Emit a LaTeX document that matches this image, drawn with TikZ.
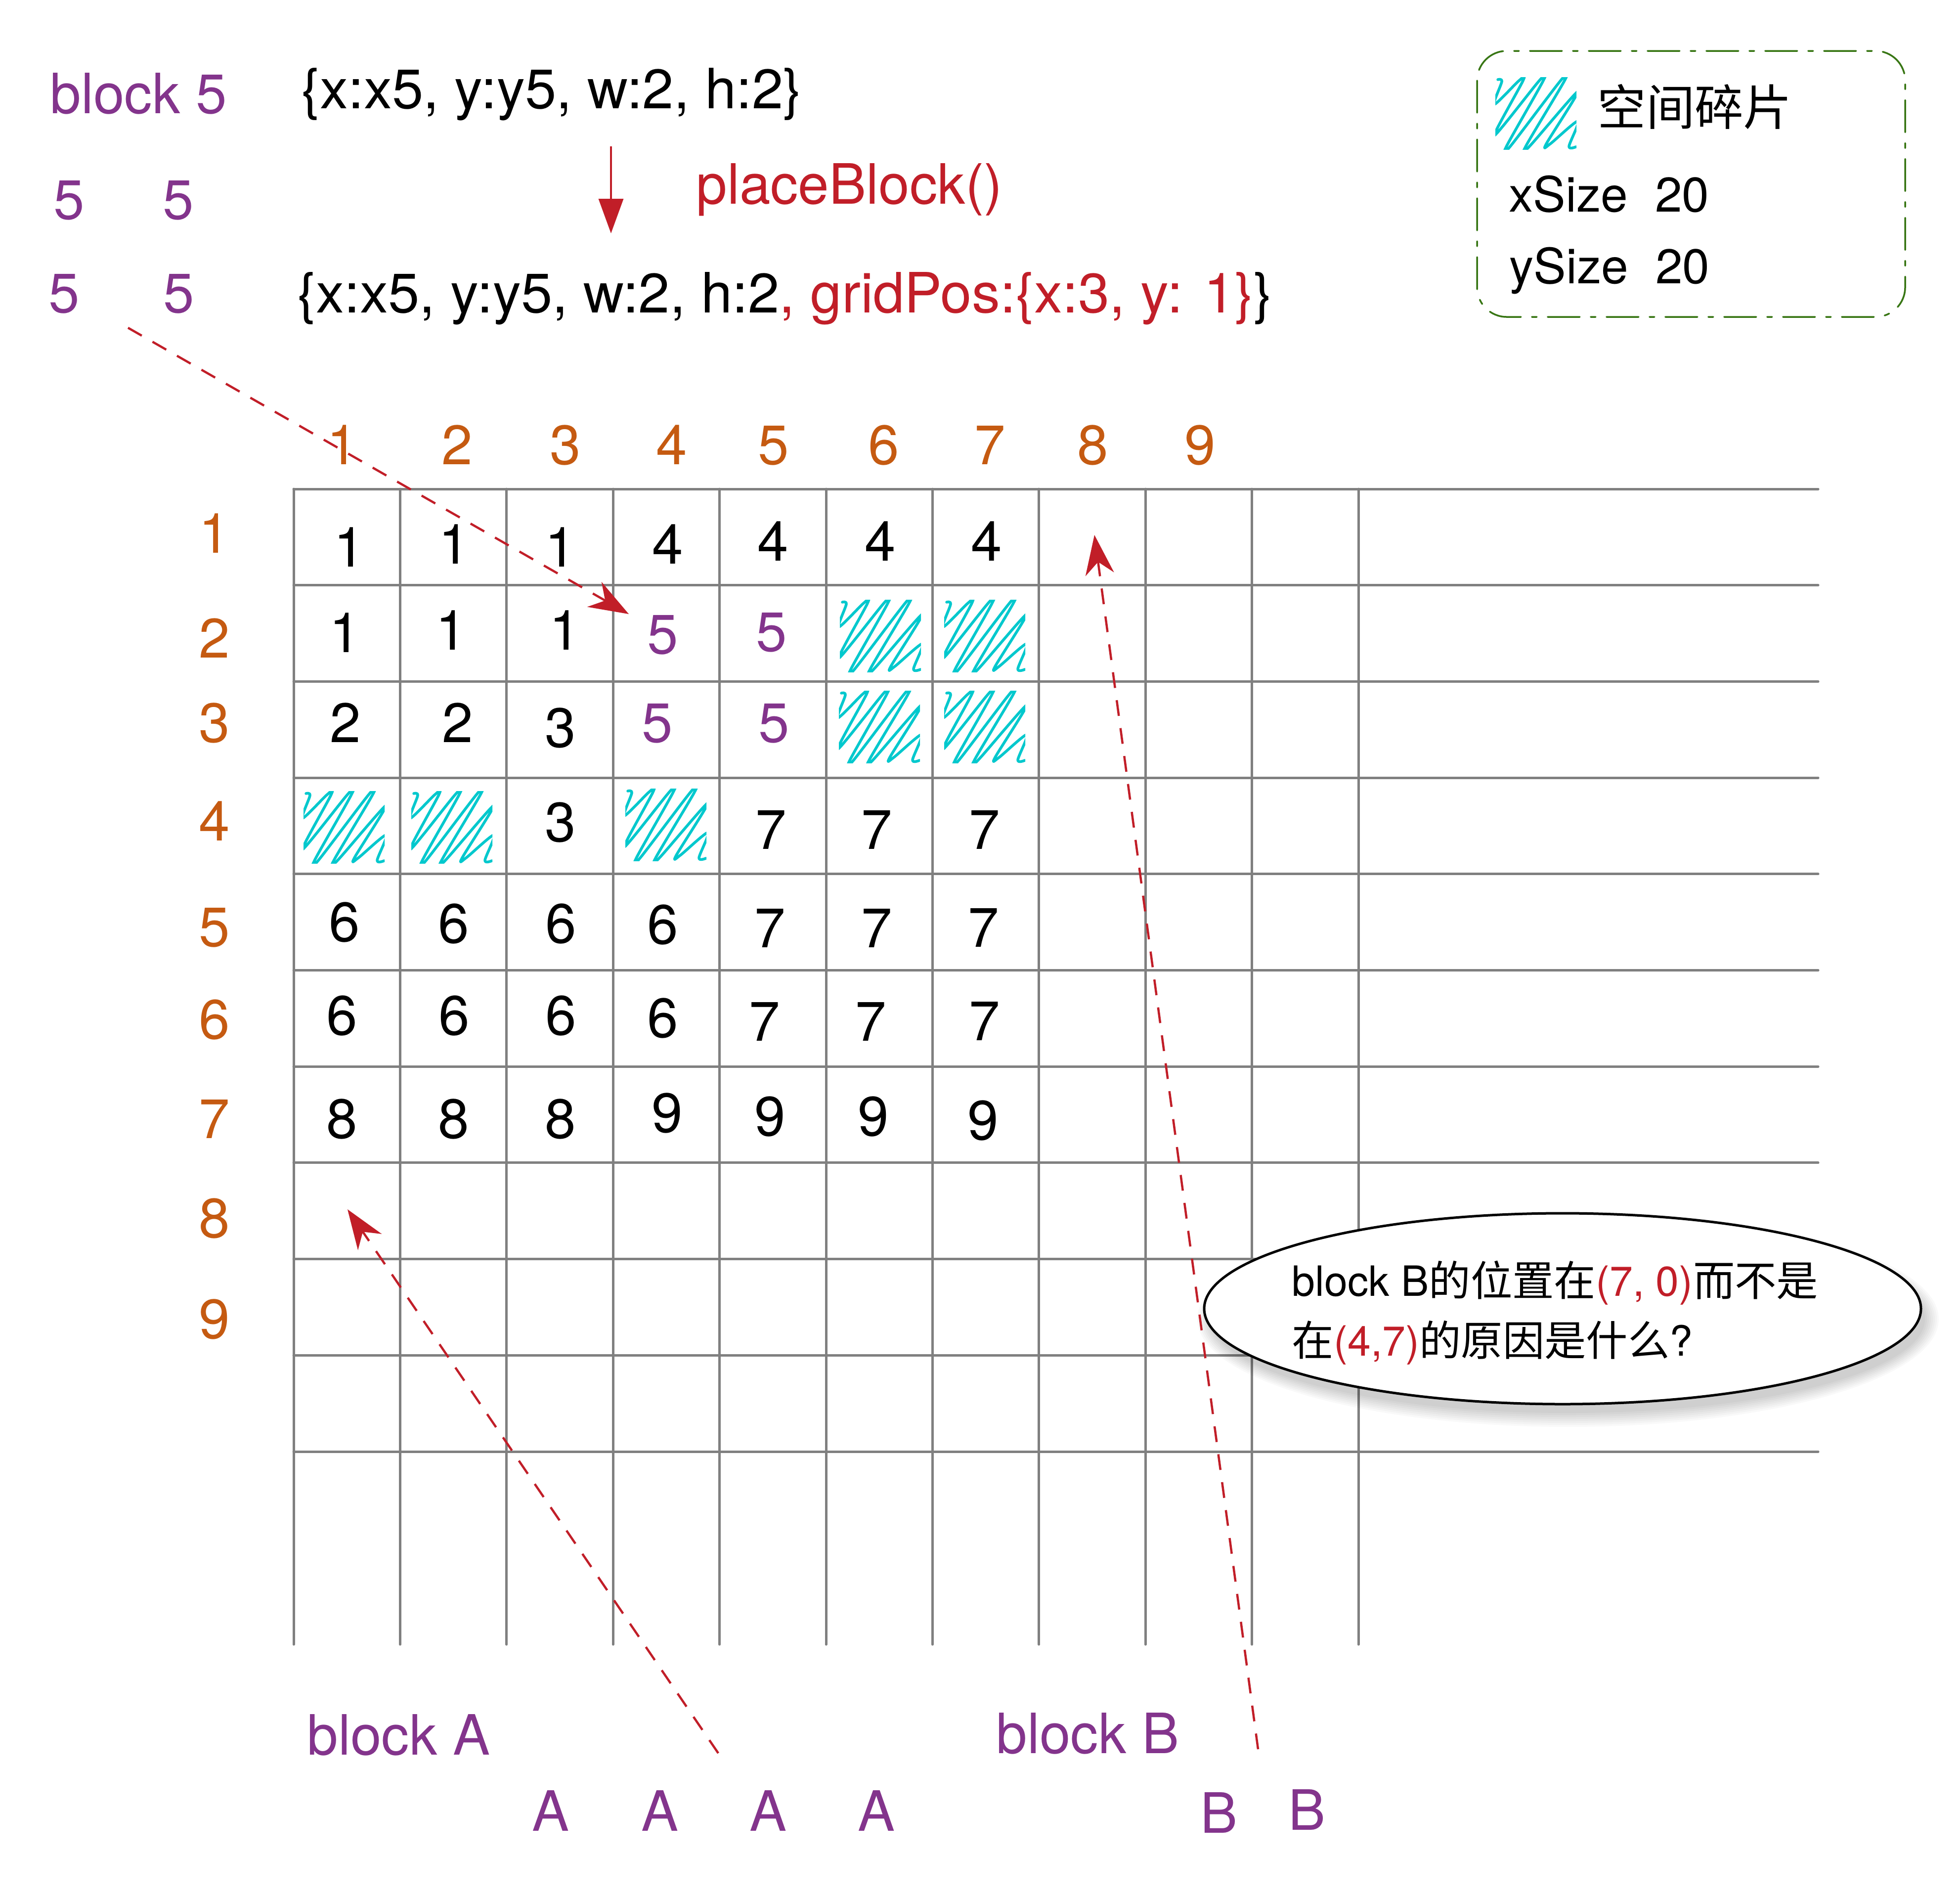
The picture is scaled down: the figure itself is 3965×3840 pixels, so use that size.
\documentclass[tikz,border=0pt]{standalone}
\usepackage{fontspec}
\setmainfont{TeX Gyre Heros}
\newfontfamily\cjk{Noto Sans CJK SC}
\newfontfamily\codefont{TeX Gyre Heros}[FakeStretch=1.012]
\usepackage{tikz}
\usetikzlibrary{arrows.meta,shapes.geometric}
\definecolor{blockPurple}{RGB}{131,52,140}
\definecolor{axisOrange}{RGB}{197,90,17}
\definecolor{arrowRed}{RGB}{193,30,40}
\definecolor{scrapCyan}{RGB}{0,200,205}
\definecolor{legendGreen}{RGB}{56,118,20}
\definecolor{gridGray}{RGB}{128,128,128}

\begin{document}
\begin{tikzpicture}[x=0.1mm, y=-0.1mm,
        scrap/.pic={\clip (-3,-3) rectangle (161,143);
            \draw[scrapLine] plot[smooth, tension=0.5] coordinates {(2,2) (10,6) (-5,52)
            (45,4) (53,4) (-5,115) (86,4) (94,4) (20,136) (28,136) (129,4) (137,4)
            (59,136) (67,136) (164,26) (100,132) (108,132) (164,86) (146,137) (160,138)};}]
    \tikzstyle{gridLine} = [draw=gridGray, line width=0.5mm, line cap=round]
    \tikzstyle{scrapLine} = [draw=scrapCyan, line width=0.55mm, line cap=round, line join=round]
    \tikzstyle{cellNum} = [inner sep=0, anchor=base, font=\fontsize{32}{38}\selectfont]
    \tikzstyle{axisNum} = [cellNum, text=axisOrange]
    \tikzstyle{blockText} = [cellNum, text=blockPurple]
    \tikzstyle{codeText} = [inner sep=0, anchor=base west, font=\codefont\fontsize{32}{38}\selectfont]
    \tikzstyle{legendText} = [inner sep=0, anchor=base west, font=\fontsize{28}{34}\selectfont]
    \tikzstyle{askText} = [inner sep=0, anchor=base west, font=\fontsize{24}{29}\selectfont]
    \tikzstyle{ask} = [ellipse, draw=black, line width=0.5mm, fill=white, inner sep=0,
        minimum width=145mm, minimum height=38.6mm]
    \tikzstyle{hint} = [draw=arrowRed, line width=0.45mm, dash pattern=on 3.2mm off 2.5mm,
        -{Stealth[length=8mm, width=5.8mm, inset=2.5mm]}]
    \tikzstyle{legendBox} = [draw=legendGreen, line width=0.35mm, rounded corners=6mm,
        line cap=round, dash pattern=on 6.5mm off 2.2mm on 1mm off 2.2mm]
    \path[use as bounding box, fill=white] (0,0) rectangle (3965,3840);

    % grid
    \foreach \i in {0,...,10}
        \draw[gridLine] (594,{989+194.7*\i}) -- (3678,{989+194.7*\i});
    \foreach \j in {0,...,10}
        \draw[gridLine] ({594+215.4*\j},989) -- ({594+215.4*\j},3326);

    % axis labels
    \foreach \x [count=\i] in {693,925,1144,1359,1565,1788,2003,2211,2428}
        \node[axisNum] (col\i) at (\x,939) {\i};
    \foreach \y [count=\i] in {1118,1330,1501,1700,1914,2101,2302,2503,2707}
        \node[axisNum] (row\i) at (434,\y) {\i};

    % cells
    \foreach \x/\y/\t [count=\i] in {707/1146/1, 919/1140/1, 1134/1146/1, 1351/1140/4,
            1564/1134/4, 1781/1134/4, 1996/1134/4,
            698/1319/1, 913/1314/1, 1143/1314/1,
            699/1501/2, 926/1501/2, 1134/1511/3,
            1134/1702/3, 1560/1717/7, 1774/1717/7, 1992/1717/7,
            697/1904/6, 918/1907/6, 1135/1907/6, 1341/1909/6, 1558/1916/7, 1774/1916/7, 1990/1915/7,
            692/2093/6, 919/2093/6, 1135/2093/6, 1341/2098/6, 1547/2105/7, 1762/2105/7, 1992/2104/7,
            692/2302/8, 918/2302/8, 1134/2302/8, 1350/2290/9, 1558/2297/9, 1767/2297/9, 1989/2305/9}
        \node[cellNum] (c\i) at (\x,\y) {\t};
    \foreach \x/\y [count=\i] in {1341/1322, 1561/1317, 1330/1501, 1566/1501}
        \node[blockText] (p\i) at (\x,\y) {5};
    \foreach \x/\y in {1702/1216, 1913/1216, 1700/1400, 1913/1400,
            617/1603, 835/1603, 1268/1598}
        \pic at (\x,\y) {scrap};

    % block 5 before and after
    \node[blockText, anchor=base west] (block5) at (101,229) {block 5};
    \node[codeText] (before) at (609,219) {\{x:x5, y:y5, w:2, h:2\}};
    \node[blockText] (top5a) at (140,443) {5};
    \node[blockText] (top5b) at (361,443) {5};
    \node[blockText] (top5c) at (130,632) {5};
    \node[blockText] (top5d) at (362,632) {5};
    \node[codeText] (after) at (601,632)
        {\{x:x5, y:y5, w:2, h:2\textcolor{arrowRed}{, gridPos:\{x:3, y: 1\}}\}};
    \node[cellNum, anchor=base west, text=arrowRed] (place) at (1408,412) {placeBlock()};
    \coordinate (callTop) at (1236,296);
    \coordinate (callEnd) at (1236,472);
    \draw[arrowRed, line width=0.35mm, -{Triangle[length=7mm, width=5mm]}] (callTop) -- (callEnd);

    % legend
    \draw[legendBox] (2988,103) rectangle (3854,641);
    \pic at (3028,159) {scrap};
    \node[legendText] (legendName) at (3231,253) {\cjk 空间碎片};
    \node[legendText] (xSize) at (3052,428) {xSize\ \ 20};
    \node[legendText] (ySize) at (3053,573) {ySize\ \ 20};

    % question
    \foreach \k in {0,...,7}
        \fill[black, opacity=0.022] (3172,2668) ellipse [x radius={722+4*\k}, y radius={190+4*\k}];
    \node[ask] (askBubble) at (3161,2647) {};
    \node[askText] (ask1) at (2613,2621)
        {block B{\cjk 的位置在}\textcolor{arrowRed}{(7, 0)}{\cjk 而不是}};
    \node[askText] (ask2) at (2613,2742)
        {{\cjk 在}\textcolor{arrowRed}{(4,7)}{\cjk 的原因是什么}?};

    % blocks A and B
    \node[blockText, anchor=base west] (blockA) at (621,3549) {block A};
    \foreach \x [count=\i] in {1114,1335,1554,1773}
        \node[blockText] (a\i) at (\x,3703) {A};
    \node[blockText, anchor=base west] (blockB) at (2015,3546) {block B};
    \node[blockText] (b1) at (2466,3707) {B};
    \node[blockText] (b2) at (2644,3701) {B};

    \coordinate (fromBlock5) at (259,663);
    \coordinate (toCell5) at (1272,1242);
    \coordinate (fromA) at (1453,3546);
    \coordinate (toCellA) at (703,2446);
    \coordinate (fromB) at (2545,3538);
    \coordinate (toCellB) at (2214,1082);
    \foreach \from/\to in {fromBlock5/toCell5, fromA/toCellA, fromB/toCellB}
        \draw[hint] (\from) -- (\to);
\end{tikzpicture}
\end{document}
